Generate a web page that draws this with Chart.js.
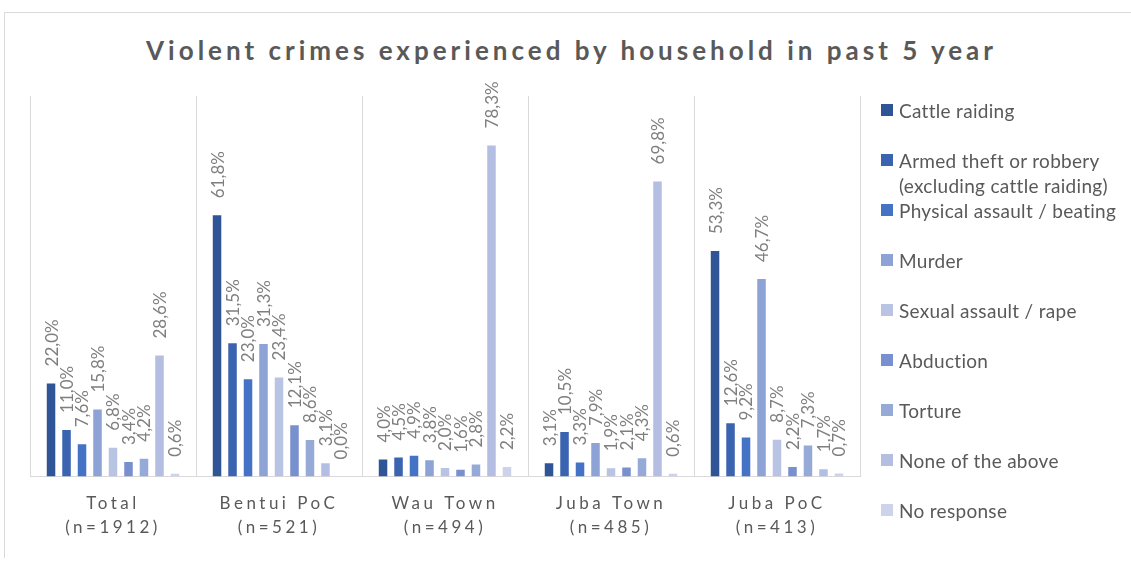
<!DOCTYPE html>
<html>
<head>
<meta charset="utf-8">
<script src="https://cdn.jsdelivr.net/npm/chart.js@4.4.0/dist/chart.umd.min.js"></script>
<style>
  html, body { margin: 0; padding: 0; background: #fff; }
  #wrap { position: relative; width: 1131px; height: 561px; overflow: hidden; font-family: Lato, "Open Sans", sans-serif; }
  #frame { position: absolute; left: 4px; top: 12px; width: 1140px; height: 545px; border-top: 1px solid #d9d9d9; border-left: 1px solid #d9d9d9; }
  #titulo { position: absolute; left: 0; width: 1131px; top: 34px; text-align: center; font-weight: bold; font-size: 26px; letter-spacing: 4px; color: #595959; margin-left: 6px; }
  #chartM { position: absolute; left: 0; top: 0; }
  .ley { position: absolute; left: 881px; font-size: 19px; letter-spacing: 0.3px; color: #595959; line-height: 25px; }
  .ley span.box { position: absolute; left: 0; top: 6px; width: 12px; height: 12px; }
  .ley span.txt { display: block; margin-left: 18px; white-space: pre; }
</style>
</head>
<body>
<div id="wrap">
  <div id="frame"></div>
  <div id="titulo">Violent crimes experienced by household in past 5 year</div>
  <canvas id="chartM" width="1131" height="561"></canvas>
  <div id="leyenda"></div>
</div>
<script>
'use strict'

//categorias
let lugares = [["Total", "(n=1912)"], ["Bentui PoC", "(n=521)"], ["Wau Town", "(n=494)"], ["Juba Town", "(n=485)"], ["Juba PoC", "(n=413)"]];

//series (%)
let cattle = [22.0, 61.8, 4.0, 3.1, 53.3];
let armed = [11.0, 31.5, 4.5, 10.5, 12.6];
let physical = [7.6, 23.0, 4.9, 3.3, 9.2];
let murder = [15.8, 31.3, 3.8, 7.9, 46.7];
let sexual = [6.8, 23.4, 2.0, 1.9, 8.7];
let abduction = [3.4, 12.1, 1.6, 2.1, 2.2];
let torture = [4.2, 8.6, 2.8, 4.3, 7.3];
let none = [28.6, 3.1, 78.3, 69.8, 1.7];
let noResp = [0.6, 0.0, 2.2, 0.6, 0.7];

let nombres = ["Cattle raiding", "Armed theft or robbery\n(excluding cattle raiding)", "Physical assault / beating", "Murder",
  "Sexual assault / rape", "Abduction", "Torture", "None of the above", "No response"];
let colores = ["#2f5597", "#3a64af", "#4472c4", "#8ea3d5", "#b9c4e5", "#7990cf", "#96aad8", "#b3bee2", "#cdd3ec"];
let series = [cattle, armed, physical, murder, sexual, abduction, torture, none, noResp];

//leyenda html
let ley = document.getElementById("leyenda");
nombres.forEach((n, i) => {
    let d = document.createElement("div");
    d.className = "ley";
    d.style.top = (111 + i * 50 - 13) + "px";
    let b = document.createElement("span");
    b.className = "box";
    b.style.background = colores[i];
    let t = document.createElement("span");
    t.className = "txt";
    t.textContent = n;
    d.appendChild(b);
    d.appendChild(t);
    ley.appendChild(d);
});

//etiquetas de datos
const etiquetas = {
    id: 'etiquetas',
    beforeDraw(chart) {
        chart.ctx.letterSpacing = '3.5px';
    },
    afterDatasetsDraw(chart) {
        const ctx = chart.ctx;
        ctx.save();
        ctx.letterSpacing = '0px';
        ctx.font = '17px Lato';
        ctx.fillStyle = '#7f7f7f';
        ctx.textAlign = 'left';
        ctx.textBaseline = 'middle';
        chart.data.datasets.forEach((ds, i) => {
            chart.getDatasetMeta(i).data.forEach((bar, j) => {
                let txt = ds.data[j].toFixed(1).replace('.', ',') + '%';
                ctx.save();
                ctx.translate(bar.x + 1, bar.y - 17);
                ctx.rotate(-Math.PI / 2);
                ctx.fillText(txt, 0, 0);
                ctx.restore();
            });
        });
        ctx.restore();
    }
};

const ctx = document.getElementById("chartM").getContext('2d');
const myChart = new Chart(ctx, {
    type: 'bar',
    data: {
        labels: lugares,
        datasets: series.map((s, i) => ({
            label: nombres[i],
            data: s,
            backgroundColor: colores[i],
            categoryPercentage: 0.84,
            barPercentage: 0.55
        }))
    },
    options: {
        responsive: false,
        animation: false,
        layout: {
            padding: { top: 96, left: 30, right: 271, bottom: 7 }
        },
        plugins: {
            legend: { display: false },
            tooltip: { enabled: false }
        },
        scales: {
            x: {
                grid: { offset: true, color: '#d9d9d9', drawTicks: false },
                border: { color: '#d9d9d9' },
                ticks: {
                    color: '#595959',
                    font: { family: 'Lato', size: 17, lineHeight: 1.4 },
                    padding: 15,
                    maxRotation: 0,
                    autoSkip: false
                }
            },
            y: {
                display: false,
                min: 0,
                max: 90
            }
        }
    },
    plugins: [etiquetas]
});
</script>
</body>
</html>
